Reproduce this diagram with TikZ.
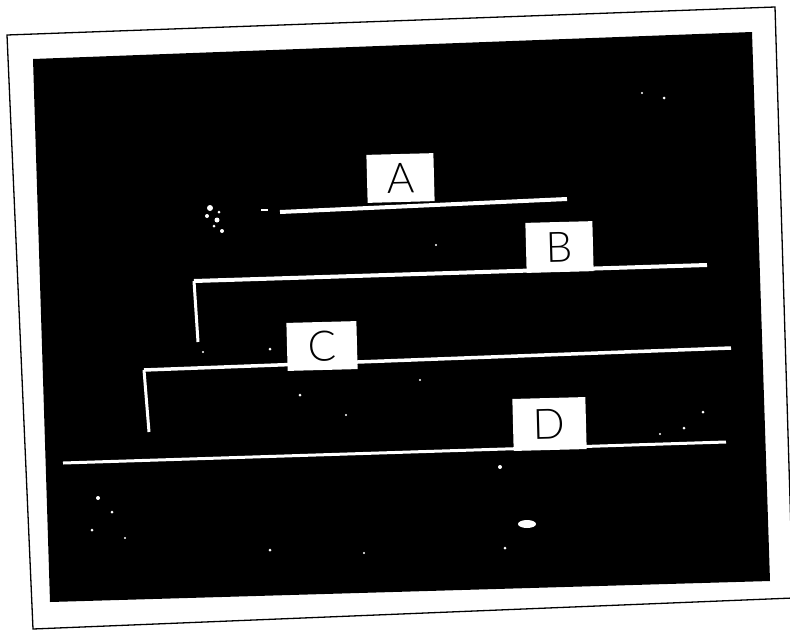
\documentclass[tikz,border=0pt]{standalone}
\usepackage{amsmath}
\usepackage{fontspec}
\usepackage{tikz}
\newfontfamily\tagfont{Lato Light}

\tikzset{
  tag/.style={fill=white, inner sep=0pt, rotate=1.5, font=\fontsize{42}{42}\tagfont, text height=30pt, text depth=0pt},
  rail/.style={white, line width=4pt},
  post/.style={white, line width=3pt},
  speck/.style={fill=white}
}

\begin{document}
\begin{tikzpicture}[x=1pt,y=-1pt]

\useasboundingbox (0,0) rectangle (790,630);
\fill[white] (0,0) rectangle (790,630);

%frame
\draw[line width=1.3pt] (7,35)--(775,7)--(793,598)--(33,629)--cycle;
\fill[black] (33,59)--(752,32)--(770,581)--(50,602)--cycle;

%ends
\coordinate (a1) at (280,212);\coordinate (a2) at (567,199);
\coordinate (b1) at (194,281);\coordinate (b2) at (707,265);\coordinate (b3) at (198,342);
\coordinate (c1) at (144,370);\coordinate (c2) at (731,348);\coordinate (c3) at (149,432);
\coordinate (d1) at (63,463);\coordinate (d2) at (726,442);

\draw[rail] (a1)--(a2); \draw[white,line width=2pt] (261,210)--(268,210);
\draw[rail] (b1)--(b2); \draw[post] (b1)--(b3);
\draw[rail,line width=3.5pt] (c1)--(c2); \draw[post] (c1)--(c3);
\draw[rail,line width=3pt] (d1)--(d2);

\node[tag, minimum width=67pt, minimum height=48pt] (A) at (400.5,178) {A};
\node[tag, minimum width=67pt, minimum height=50pt] (B) at (559.5,247) {B};
\node[tag, minimum width=70pt, minimum height=48pt] (C) at (322,346) {C};
\node[tag, minimum width=73pt, minimum height=52pt] (D) at (549.5,424) {D};

%specks
\foreach \x/\y/\r in {210/208/3,217/220/2.5,222/231/2,214/226/1.5,207/216/2,219/212/1.5,270/349/1.5,300/395/1.5,203/352/1.2,
  642/93/1.2,664/98/1.5,703/412/1.5,684/428/1.5,660/434/1.2,98/498/2,112/512/1.5,92/530/1.5,125/538/1.2,
  270/550/1.5,364/553/1.2,500/467/2,505/548/1.5,436/245/1.2,420/380/1.2,346/415/1.2}
  {\fill[speck] (\x,\y) circle [radius=\r];}
\fill[speck] (527,524) ellipse [x radius=9, y radius=4];

\end{tikzpicture}
\end{document}
